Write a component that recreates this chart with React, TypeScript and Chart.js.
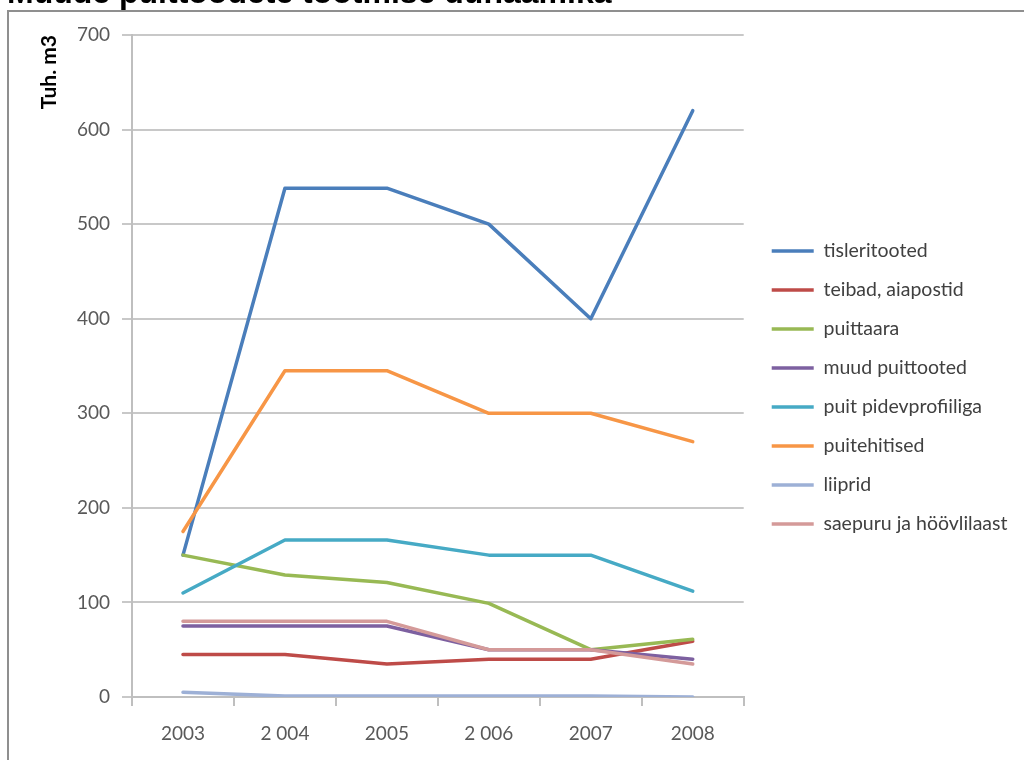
import { useEffect, useRef } from "react";
import { Chart, registerables } from "chart.js";

Chart.register(...registerables);

const years = ["2003", "2 004", "2005", "2 006", "2007", "2008"];

const tisleritooted = [150, 538, 538, 500, 400, 620];
const teibadAiapostid = [45, 45, 35, 40, 40, 59];
const puittaara = [150, 129, 121, 99, 50, 61];
const muudPuittooted = [75, 75, 75, 50, 50, 40];
const puitPidevprofiiliga = [110, 166, 166, 150, 150, 112];
const puitehitised = [175, 345, 345, 300, 300, 270];
const liiprid = [5, 1, 1, 1, 1, 0];
const saepuru = [80, 80, 80, 50, 50, 35];

const seriesNames = [
  "tisleritooted",
  "teibad, aiapostid",
  "puittaara",
  "muud puittooted",
  "puit pidevprofiiliga",
  "puitehitised",
  "liiprid",
  "saepuru ja höövlilaast",
];
const seriesValues = [
  tisleritooted,
  teibadAiapostid,
  puittaara,
  muudPuittooted,
  puitPidevprofiiliga,
  puitehitised,
  liiprid,
  saepuru,
];
const seriesColors = [
  "#4A7EBB",
  "#BE4B48",
  "#98B954",
  "#7D60A0",
  "#46AAC5",
  "#F79646",
  "#9DB0D6",
  "#D49A99",
];

const chartTitle = "Muude puittoodete tootmise dünaamika";
const yTitle = "Tuh. m3";
const yMin = 0;
const yMax = 700;
const yStep = 100;

const legendShift = {
  id: "legendShift",
  afterLayout(chart: any) {
    const l = chart.legend;
    if (l) {
      l.left += 8.5;
      l.right += 8.5;
    }
  },
};

export default function App() {
  const ref = useRef<HTMLCanvasElement>(null);

  useEffect(() => {
    if (!ref.current) return;
    const tickFont = { family: "Lato", size: 19 };
    const chart = new Chart(ref.current, {
      type: "line",
      data: {
        labels: years,
        datasets: seriesNames.map((name, i) => ({
          label: name,
          data: seriesValues[i],
          borderColor: seriesColors[i],
          backgroundColor: seriesColors[i],
          borderWidth: 3.5,
          pointBorderWidth: 3.5,
          pointRadius: 0,
          pointHoverRadius: 0,
          tension: 0,
          fill: false,
          borderJoinStyle: "round",
          borderCapStyle: "round",
          order: -i,
        })),
      },
      options: {
        responsive: false,
        animation: false,
        layout: { padding: { left: 28, top: 35, right: 15, bottom: 20 } },
        plugins: {
          tooltip: { enabled: false },
          title: { display: false },
          legend: {
            position: "right",
            align: "center",
            maxWidth: 320,
            labels: {
              usePointStyle: true,
              pointStyle: "line",
              pointStyleWidth: 42,
              padding: 19.5,
              color: "#404040",
              font: { family: "Lato", size: 19.5 },
              sort: (a: any, b: any) => a.datasetIndex - b.datasetIndex,
            },
          },
        },
        scales: {
          x: {
            offset: true,
            grid: {
              offset: true,
              drawOnChartArea: false,
              drawTicks: true,
              tickLength: 9,
              color: "#BFBFBF",
              lineWidth: 2,
            },
            border: { display: true, color: "#BFBFBF", width: 2 },
            ticks: {
              padding: 16,
              color: "#595959",
              font: tickFont,
              maxRotation: 0,
              autoSkip: false,
            },
            afterFit: (s: any) => {
              s.height = 43;
            },
          },
          y: {
            min: yMin,
            max: yMax,
            ticks: {
              stepSize: yStep,
              padding: 12,
              color: "#595959",
              font: tickFont,
            },
            grid: { color: "#C8C8C8", lineWidth: 2, tickLength: 10 },
            border: { color: "#BFBFBF", width: 2 },
            title: {
              display: true,
              text: yTitle,
              align: "end",
              color: "#000000",
              font: { family: "Lato", size: 21, weight: "bold" },
              padding: { top: 9, bottom: 0 },
            },
            afterFit: (s: any) => {
              s.width = 104;
            },
          },
        },
      } as any,
      plugins: [legendShift],
    });
    return () => chart.destroy();
  }, []);

  return (
    <>
      <div
        style={{
          position: "fixed",
          left: 7,
          top: 10,
          right: 0,
          bottom: 0,
          borderLeft: "2px solid #8f8f8f",
          borderTop: "2px solid #8f8f8f",
        }}
      />
      <div
        style={{
          position: "fixed",
          left: 7,
          top: -24,
          font: 'bold 32px "Liberation Sans", Arial, sans-serif',
          lineHeight: "32px",
          whiteSpace: "nowrap",
          color: "#000",
        }}
      >
        {chartTitle}
      </div>
      <div style={{ position: "fixed", left: 0, top: 0, width: 1024, height: 760 }}>
        <canvas ref={ref} width={1024} height={760} style={{ display: "block" }} />
      </div>
    </>
  );
}
